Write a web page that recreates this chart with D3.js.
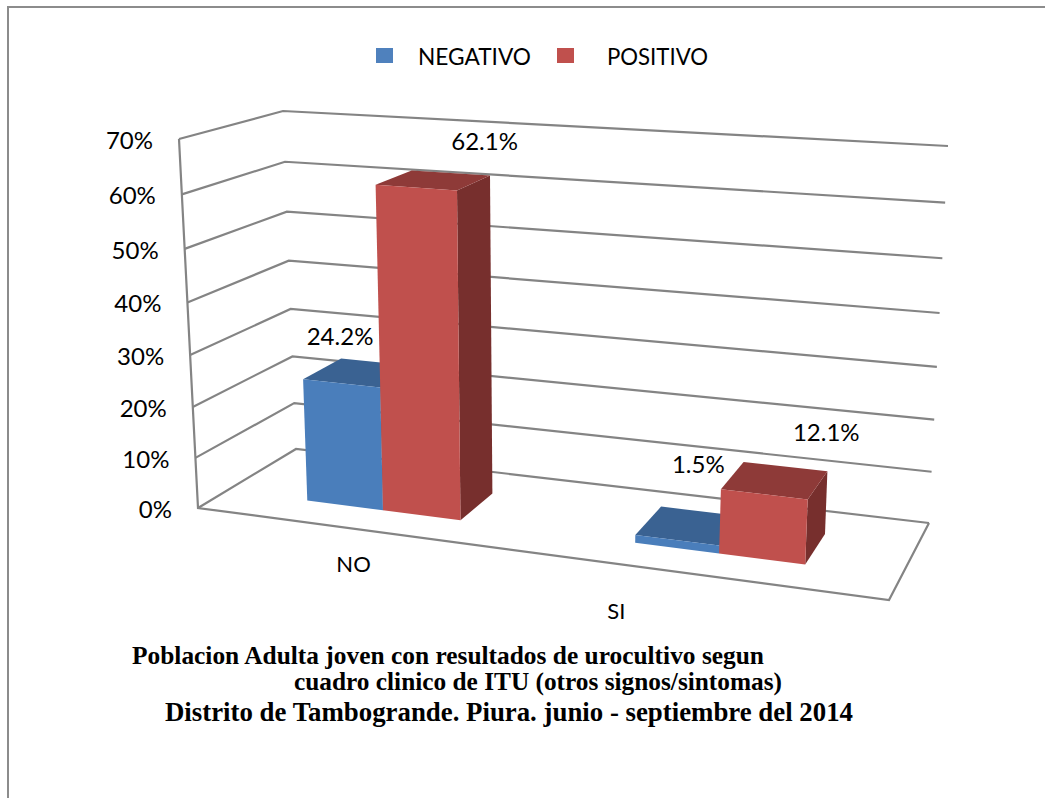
<!DOCTYPE html>
<html><head><meta charset="utf-8">
<script src="https://cdn.jsdelivr.net/npm/d3@7/dist/d3.min.js"></script>
<style>html,body{margin:0;padding:0;background:#fff}svg{display:block}text{fill:#000}</style>
</head><body><svg id="c" width="1045" height="798"></svg>
<script>
const categories = ["NO", "SI"];
const seriesNames = ["NEGATIVO", "POSITIVO"];
const negativo = [24.2, 1.5];
const positivo = [62.1, 12.1];
const valueLabels = [["24.2%", "1.5%"], ["62.1%", "12.1%"]];
const tickValues = [0, 10, 20, 30, 40, 50, 60, 70];
const titleLines = [
  "Poblacion Adulta joven con resultados de urocultivo segun",
  "cuadro clinico de ITU (otros signos/sintomas)",
  "Distrito de Tambogrande. Piura. junio - septiembre del 2014"
];

// ---- layout: the picture's 3D box corners [x,y]
const box = {
  fl0: [198, 508], fr0: [889, 600], bl0: [296, 449], br0: [929, 523],
  fl1: [179, 139], fr1: [911, 188], bl1: [283, 111], br1: [948, 146]
};
const depthFront = 0.30, depthBack = 0.71;
const kx = 1.11, ky = 1.06;
const warp = (t, k) => t / (t + k * (1 - t));
const lerp = (a, b, t) => [a[0] + (b[0] - a[0]) * t, a[1] + (b[1] - a[1]) * t];

const xBand = d3.scaleBand().domain(categories).range([0, 1]).paddingInner(0.52).paddingOuter(0.26);
const xSeries = d3.scaleBand().domain(seriesNames).range([0, xBand.bandwidth()]);
const yScale = d3.scaleLinear().domain([0, 70]).range([0, 1]);

function project(xu, v, z) {
  const x = warp(xu, kx), y = warp(yScale(v), ky);
  const bottom = lerp(lerp(box.fl0, box.fr0, x), lerp(box.bl0, box.br0, x), z);
  const top = lerp(lerp(box.fl1, box.fr1, x), lerp(box.bl1, box.br1, x), z);
  return lerp(bottom, top, y);
}
const poly = pts => "M" + pts.map(p => p[0].toFixed(1) + "," + p[1].toFixed(1)).join("L") + "Z";
const lineGen = d3.line();

const svg = d3.select("#c");
const sans = "Lato, Carlito, sans-serif";

// frame
svg.append("path").attr("d", "M8,798V7H1045").attr("fill", "none").attr("stroke", "#8c8c8c").attr("stroke-width", 2);

// gridlines + walls
const grid = svg.append("g").attr("fill", "none").attr("stroke", "#848484").attr("stroke-width", 2.2).attr("stroke-linejoin", "miter");
tickValues.forEach(v => {
  grid.append("path").attr("d", lineGen([project(0, v, 0), project(0, v, 1), project(1, v, 1)]));
});
grid.append("path").attr("d", lineGen([project(0, 70, 0), project(0, 0, 0), project(1, 0, 0), project(1, 0, 1)]));

// tick labels
const fit = (sel, w) => w ? sel.attr("textLength", w).attr("lengthAdjust", "spacingAndGlyphs") : sel;
svg.append("g").selectAll("text").data(tickValues).join("text")
  .attr("x", v => project(0, v, 0)[0] - 26)
  .attr("y", v => project(0, v, 0)[1] + 10)
  .attr("text-anchor", "end")
  .attr("font-family", sans).attr("font-size", 24)
  .text(v => v + "%");

// bars
const colors = {
  NEGATIVO: { front: "#4a7ebb", top: "#3a6292", side: "#2f5079" },
  POSITIVO: { front: "#c0504d", top: "#8e3a38", side: "#772f2d" }
};
const values = { NEGATIVO: negativo, POSITIVO: positivo };
const bars = svg.append("g");
categories.forEach((cat, i) => {
  seriesNames.forEach(s => {
    const v = values[s][i];
    const x0 = xBand(cat) + xSeries(s), x1 = x0 + xSeries.bandwidth();
    const c = colors[s];
    const g = bars.append("g");
    g.append("path").attr("fill", c.side).attr("d", poly([
      project(x1, 0, depthFront), project(x1, 0, depthBack), project(x1, v, depthBack), project(x1, v, depthFront)]));
    g.append("path").attr("fill", c.top).attr("d", poly([
      project(x0, v, depthFront), project(x1, v, depthFront), project(x1, v, depthBack), project(x0, v, depthBack)]));
    g.append("path").attr("fill", c.front).attr("d", poly([
      project(x0, 0, depthFront), project(x1, 0, depthFront), project(x1, v, depthFront), project(x0, v, depthFront)]));
  });
});

// value labels: nudges from each bar's top-back centre
const labelNudge = { NEGATIVO: [[-38, -26], [-3, -47]], POSITIVO: [[34, -32], [41, -35]] };
const labelG = svg.append("g").attr("font-family", sans).attr("font-size", 24).attr("text-anchor", "middle");
seriesNames.forEach((s, si) => {
  categories.forEach((cat, i) => {
    const xc = xBand(cat) + xSeries(s) + xSeries.bandwidth() / 2;
    const p = project(xc, values[s][i], depthBack);
    const n = labelNudge[s][i];
    labelG.append("text").attr("x", p[0] + n[0]).attr("y", p[1] + n[1] + 9).text(valueLabels[si][i]);
  });
});

// category labels
const catNudge = [[-4, 43], [-86, 44]];
svg.append("g").selectAll("text").data(categories).join("text")
  .attr("x", (c, i) => project(xBand(c) + xBand.bandwidth() / 2, 0, 0)[0] + catNudge[i][0])
  .attr("y", (c, i) => project(xBand(c) + xBand.bandwidth() / 2, 0, 0)[1] + catNudge[i][1])
  .attr("text-anchor", "middle").attr("font-family", sans).attr("font-size", 22)
  .text(c => c);

// legend
const legendX = { NEGATIVO: [376, 418, 113], POSITIVO: [557, 607, 101] };
seriesNames.forEach(s => {
  svg.append("rect").attr("x", legendX[s][0]).attr("y", 48).attr("width", 17).attr("height", 15).attr("fill", s === "NEGATIVO" ? "#4f81bd" : "#c0504d");
  fit(svg.append("text").attr("x", legendX[s][1]).attr("y", 65)
    .attr("font-family", sans).attr("font-size", 24).text(s), legendX[s][2]);
});

// title block
const titlePos = [[132, 664, 632, 24.4], [294, 690, 488, 24.4], [165, 721, 688, 26.5]];
titleLines.forEach((t, i) => {
  fit(svg.append("text").attr("x", titlePos[i][0]).attr("y", titlePos[i][1])
    .attr("font-family", "'Liberation Serif', serif").attr("font-weight", "bold")
    .attr("font-size", titlePos[i][3]).text(t), titlePos[i][2]);
});
</script></body></html>
